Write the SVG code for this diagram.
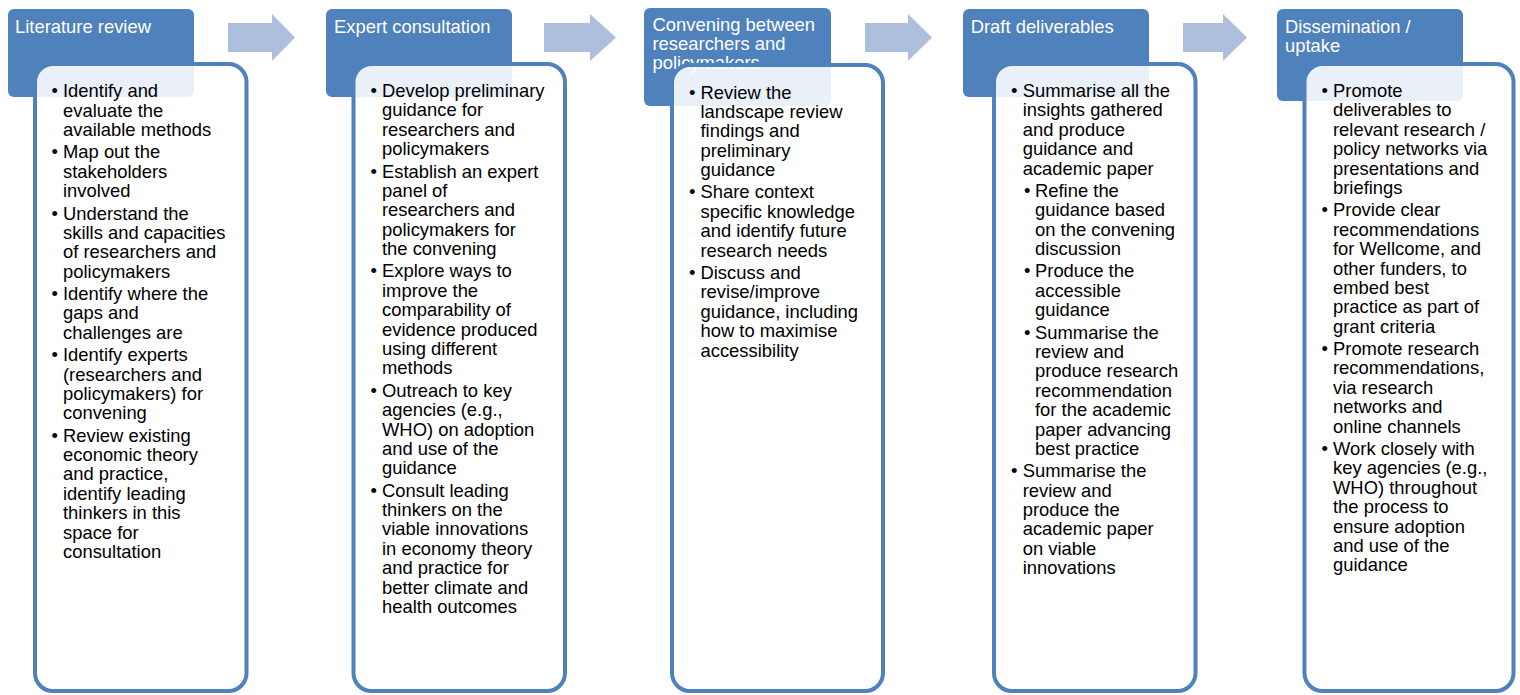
<svg xmlns="http://www.w3.org/2000/svg" width="1520" height="695" viewBox="0 0 1520 695">
<style>
.hdr{fill:#4f81bd}
.card{fill:#ffffff;fill-opacity:0.88;stroke:#4f81bd;stroke-width:4}
.arr{fill:#adbfdc}
.ht{font-family:"Liberation Sans",Arial,sans-serif;font-size:18.4px;fill:#ffffff}
.bt{font-family:"Liberation Sans",Arial,sans-serif;font-size:18.4px;fill:#000000}
</style>
<rect width="1520" height="695" fill="#ffffff"/>
<g id="connectors">
<path class="arr" d="M228,23 H272 V14 L295,37.5 L272,61 V52 H228 Z"/>
<path class="arr" d="M544,23 H590 V14 L616,37.5 L590,61 V52 H544 Z"/>
<path class="arr" d="M865,23 H908 V14 L932,37.5 L908,61 V52 H865 Z"/>
<path class="arr" d="M1183,23 H1223 V14 L1247,37.5 L1223,61 V52 H1183 Z"/>
</g>
<g id="node1">
<rect class="hdr" x="8" y="9" width="186" height="88" rx="6"/>
<text class="ht" x="15" y="32.7">Literature review</text>
<rect class="card" x="35" y="64" width="211.5" height="627" rx="18"/>
<g class="bt">
<text x="51.5" y="97.3">•</text>
<text x="63" y="97.3">Identify and<tspan x="63" dy="19.4">evaluate the</tspan><tspan x="63" dy="19.4">available methods</tspan></text>
<text x="51.5" y="158.4">•</text>
<text x="63" y="158.4">Map out the<tspan x="63" dy="19.4">stakeholders</tspan><tspan x="63" dy="19.4">involved</tspan></text>
<text x="51.5" y="219.5">•</text>
<text x="63" y="219.5">Understand the<tspan x="63" dy="19.4">skills and capacities</tspan><tspan x="63" dy="19.4">of researchers and</tspan><tspan x="63" dy="19.4">policymakers</tspan></text>
<text x="51.5" y="300">•</text>
<text x="63" y="300">Identify where the<tspan x="63" dy="19.4">gaps and</tspan><tspan x="63" dy="19.4">challenges are</tspan></text>
<text x="51.5" y="361.1">•</text>
<text x="63" y="361.1">Identify experts<tspan x="63" dy="19.4">(researchers and</tspan><tspan x="63" dy="19.4">policymakers) for</tspan><tspan x="63" dy="19.4">convening</tspan></text>
<text x="51.5" y="441.6">•</text>
<text x="63" y="441.6">Review existing<tspan x="63" dy="19.4">economic theory</tspan><tspan x="63" dy="19.4">and practice,</tspan><tspan x="63" dy="19.4">identify leading</tspan><tspan x="63" dy="19.4">thinkers in this</tspan><tspan x="63" dy="19.4">space for</tspan><tspan x="63" dy="19.4">consultation</tspan></text>
</g>
</g>
<g id="node2">
<rect class="hdr" x="326" y="9" width="186" height="88" rx="6"/>
<text class="ht" x="334" y="32.7">Expert consultation</text>
<rect class="card" x="353.5" y="64" width="211.5" height="627" rx="18"/>
<g class="bt">
<text x="370.5" y="97">•</text>
<text x="382" y="97">Develop preliminary<tspan x="382" dy="19.4">guidance for</tspan><tspan x="382" dy="19.4">researchers and</tspan><tspan x="382" dy="19.4">policymakers</tspan></text>
<text x="370.5" y="177.5">•</text>
<text x="382" y="177.5">Establish an expert<tspan x="382" dy="19.4">panel of</tspan><tspan x="382" dy="19.4">researchers and</tspan><tspan x="382" dy="19.4">policymakers for</tspan><tspan x="382" dy="19.4">the convening</tspan></text>
<text x="370.5" y="277.4">•</text>
<text x="382" y="277.4">Explore ways to<tspan x="382" dy="19.4">improve the</tspan><tspan x="382" dy="19.4">comparability of</tspan><tspan x="382" dy="19.4">evidence produced</tspan><tspan x="382" dy="19.4">using different</tspan><tspan x="382" dy="19.4">methods</tspan></text>
<text x="370.5" y="396.7">•</text>
<text x="382" y="396.7">Outreach to key<tspan x="382" dy="19.4">agencies (e.g.,</tspan><tspan x="382" dy="19.4">WHO) on adoption</tspan><tspan x="382" dy="19.4">and use of the</tspan><tspan x="382" dy="19.4">guidance</tspan></text>
<text x="370.5" y="496.6">•</text>
<text x="382" y="496.6">Consult leading<tspan x="382" dy="19.4">thinkers on the</tspan><tspan x="382" dy="19.4">viable innovations</tspan><tspan x="382" dy="19.4">in economy theory</tspan><tspan x="382" dy="19.4">and practice for</tspan><tspan x="382" dy="19.4">better climate and</tspan><tspan x="382" dy="19.4">health outcomes</tspan></text>
</g>
</g>
<g id="node3">
<rect class="hdr" x="644" y="8" width="187" height="98" rx="6"/>
<text class="ht" x="652.5" y="30.7">Convening between<tspan x="652.5" dy="19">researchers and</tspan><tspan x="652.5" dy="19">policymakers</tspan></text>
<rect class="card" x="672" y="65" width="211" height="626" rx="18"/>
<g class="bt">
<text x="689" y="98.5">•</text>
<text x="700.5" y="98.5">Review the<tspan x="700.5" dy="19.4">landscape review</tspan><tspan x="700.5" dy="19.4">findings and</tspan><tspan x="700.5" dy="19.4">preliminary</tspan><tspan x="700.5" dy="19.4">guidance</tspan></text>
<text x="689" y="198.4">•</text>
<text x="700.5" y="198.4">Share context<tspan x="700.5" dy="19.4">specific knowledge</tspan><tspan x="700.5" dy="19.4">and identify future</tspan><tspan x="700.5" dy="19.4">research needs</tspan></text>
<text x="689" y="278.9">•</text>
<text x="700.5" y="278.9">Discuss and<tspan x="700.5" dy="19.4">revise/improve</tspan><tspan x="700.5" dy="19.4">guidance, including</tspan><tspan x="700.5" dy="19.4">how to maximise</tspan><tspan x="700.5" dy="19.4">accessibility</tspan></text>
</g>
</g>
<g id="node4">
<rect class="hdr" x="963" y="9" width="186" height="88" rx="6"/>
<text class="ht" x="970.7" y="32.7">Draft deliverables</text>
<rect class="card" x="994" y="64" width="201.5" height="627" rx="18"/>
<g class="bt">
<text x="1011" y="97">•</text>
<text x="1022.7" y="97">Summarise all the<tspan x="1022.7" dy="19.4">insights gathered</tspan><tspan x="1022.7" dy="19.4">and produce</tspan><tspan x="1022.7" dy="19.4">guidance and</tspan><tspan x="1022.7" dy="19.4">academic paper</tspan></text>
<text x="1024" y="196.9">•</text>
<text x="1035" y="196.9">Refine the<tspan x="1035" dy="19.4">guidance based</tspan><tspan x="1035" dy="19.4">on the convening</tspan><tspan x="1035" dy="19.4">discussion</tspan></text>
<text x="1024" y="277.4">•</text>
<text x="1035" y="277.4">Produce the<tspan x="1035" dy="19.4">accessible</tspan><tspan x="1035" dy="19.4">guidance</tspan></text>
<text x="1024" y="338.5">•</text>
<text x="1035" y="338.5">Summarise the<tspan x="1035" dy="19.4">review and</tspan><tspan x="1035" dy="19.4">produce research</tspan><tspan x="1035" dy="19.4">recommendation</tspan><tspan x="1035" dy="19.4">for the academic</tspan><tspan x="1035" dy="19.4">paper advancing</tspan><tspan x="1035" dy="19.4">best practice</tspan></text>
<text x="1011" y="477.2">•</text>
<text x="1022.7" y="477.2">Summarise the<tspan x="1022.7" dy="19.4">review and</tspan><tspan x="1022.7" dy="19.4">produce the</tspan><tspan x="1022.7" dy="19.4">academic paper</tspan><tspan x="1022.7" dy="19.4">on viable</tspan><tspan x="1022.7" dy="19.4">innovations</tspan></text>
</g>
</g>
<g id="node5">
<rect class="hdr" x="1277" y="9" width="186" height="92" rx="6"/>
<text class="ht" x="1285" y="32.7">Dissemination /<tspan x="1285" dy="19">uptake</tspan></text>
<rect class="card" x="1304.5" y="64" width="209" height="627" rx="18"/>
<g class="bt">
<text x="1321.5" y="97">•</text>
<text x="1333" y="97">Promote<tspan x="1333" dy="19.4">deliverables to</tspan><tspan x="1333" dy="19.4">relevant research /</tspan><tspan x="1333" dy="19.4">policy networks via</tspan><tspan x="1333" dy="19.4">presentations and</tspan><tspan x="1333" dy="19.4">briefings</tspan></text>
<text x="1321.5" y="216.3">•</text>
<text x="1333" y="216.3">Provide clear<tspan x="1333" dy="19.4">recommendations</tspan><tspan x="1333" dy="19.4">for Wellcome, and</tspan><tspan x="1333" dy="19.4">other funders, to</tspan><tspan x="1333" dy="19.4">embed best</tspan><tspan x="1333" dy="19.4">practice as part of</tspan><tspan x="1333" dy="19.4">grant criteria</tspan></text>
<text x="1321.5" y="355">•</text>
<text x="1333" y="355">Promote research<tspan x="1333" dy="19.4">recommendations,</tspan><tspan x="1333" dy="19.4">via research</tspan><tspan x="1333" dy="19.4">networks and</tspan><tspan x="1333" dy="19.4">online channels</tspan></text>
<text x="1321.5" y="454.9">•</text>
<text x="1333" y="454.9">Work closely with<tspan x="1333" dy="19.4">key agencies (e.g.,</tspan><tspan x="1333" dy="19.4">WHO) throughout</tspan><tspan x="1333" dy="19.4">the process to</tspan><tspan x="1333" dy="19.4">ensure adoption</tspan><tspan x="1333" dy="19.4">and use of the</tspan><tspan x="1333" dy="19.4">guidance</tspan></text>
</g>
</g>
</svg>
